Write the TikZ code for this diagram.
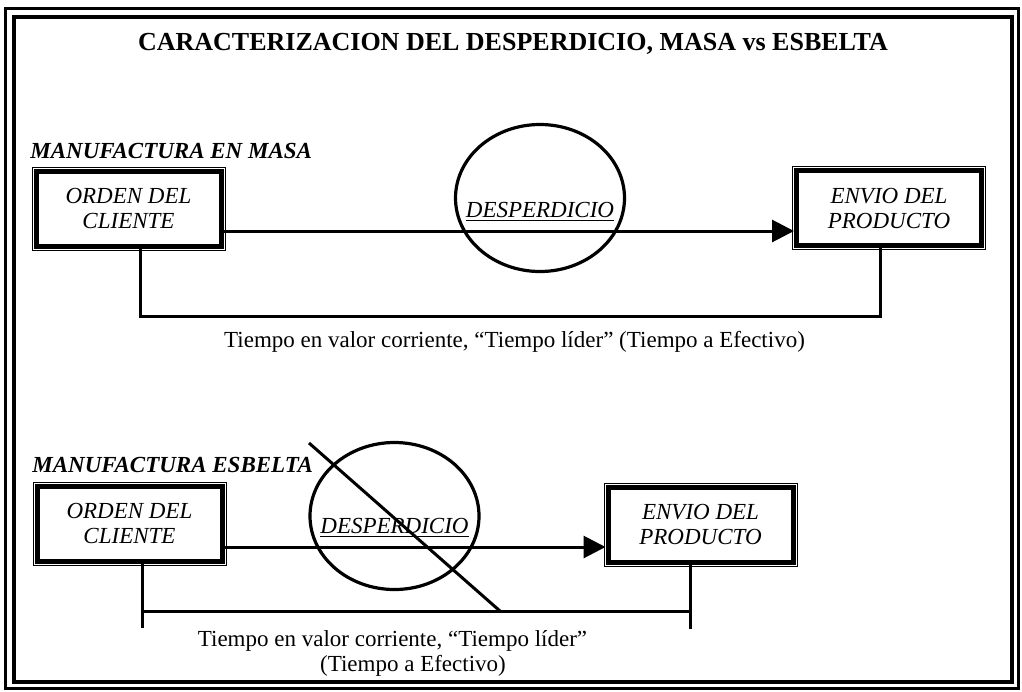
\documentclass[tikz,border=0pt]{standalone}
\usepackage{fontspec}
\setmainfont{Liberation Serif}
\usetikzlibrary{arrows.meta,shapes.geometric}

\tikzset{
  box/.style={draw,line width=2.5pt,inner sep=0pt,minimum width=92.5pt,minimum height=37.5pt,
    align=center,font=\fontsize{11.5}{12.5}\selectfont\itshape,
    append after command={\pgfextra{\draw[line width=0.5pt]
      ([shift={(-0.75pt,-0.75pt)}]\tikzlastnode.south west) rectangle
      ([shift={(0.75pt,0.75pt)}]\tikzlastnode.north east);}}},
  ring/.style={draw,ellipse,line width=1.6pt,minimum width=84.5pt,minimum height=73.5pt,inner sep=0pt},
  flow/.style={line width=1.5pt,-{Triangle[length=11pt,width=11pt]}},
  tline/.style={line width=1.5pt},
  lbl/.style={font=\fontsize{11.5}{13}\selectfont,inner sep=0pt,anchor=base},
  head/.style={font=\fontsize{11.5}{13}\selectfont\bfseries\itshape,inner sep=0pt,anchor=base west},
  waste/.style={font=\fontsize{11.5}{13}\selectfont\itshape,inner sep=0pt,anchor=base}
}

\begin{document}
\begin{tikzpicture}[x=0.5pt,y=-0.5pt]
  \useasboundingbox (0,0) rectangle (1022,691);
  % frame
  \draw[line width=1.5pt] (5,8) rectangle (1018,688);
  \draw[line width=2pt] (14,17) rectangle (1012,682);
  \node[font=\fontsize{13}{15}\selectfont\bfseries,inner sep=0pt,anchor=base] (title) at (513,50)
    {CARACTERIZACION DEL DESPERDICIO, MASA vs ESBELTA};

  % masa
  \node[head] (masa) at (30,158) {MANUFACTURA EN MASA};
  \node[box] (orden1) at (128.5,208.5) {ORDEN DEL\\CLIENTE};
  \node[box] (envio1) at (889,208) {ENVIO DEL\\PRODUCTO};
  \node[ring] (desp1) at (540,198) {};
  \node[waste] (w1) at (540,217) {\underline{DESPERDICIO}};
  \draw[flow] ([yshift=-11.25pt]orden1.east) -- ([yshift=-11.25pt]orden1.east -| envio1.west);
  \coordinate (t1) at (140,316);
  \coordinate (t2) at (880,316);
  \draw[tline] (orden1.south -| t1) -- (t1) -- (t2) -- (envio1.south -| t2);
  \node[lbl] (tiempo1) at (514.5,347) {Tiempo en valor corriente, “Tiempo líder” (Tiempo a Efectivo)};

  % esbelta
  \node[head] (esbelta) at (32,472) {MANUFACTURA ESBELTA};
  \node[box] (orden2) at (129.5,523.5) {ORDEN DEL\\CLIENTE};
  \node[box] (envio2) at (700.5,524.5) {ENVIO DEL\\PRODUCTO};
  \node[ring] (desp2) at (394.5,516) {};
  \node[waste] (w2) at (394.5,533) {\underline{DESPERDICIO}};
  \draw[flow] ([yshift=-11.75pt]orden2.east) -- ([yshift=-11.75pt]orden2.east -| envio2.west);
  \draw[tline] (309,443) -- (500,611);
  \coordinate (l3) at (142,628);
  \coordinate (l4) at (690,629);
  \coordinate (h3) at (142,611);
  \coordinate (h4) at (690,611);
  \draw[tline] (orden2.south -| l3) -- (l3);
  \draw[tline] (envio2.south -| l4) -- (l4);
  \draw[tline] (h3) -- (h4);
  \node[lbl] (tiempo2) at (392.5,646) {Tiempo en valor corriente, “Tiempo líder”};
  \node[lbl] (efectivo2) at (413,671) {(Tiempo a Efectivo)};
\end{tikzpicture}
\end{document}
